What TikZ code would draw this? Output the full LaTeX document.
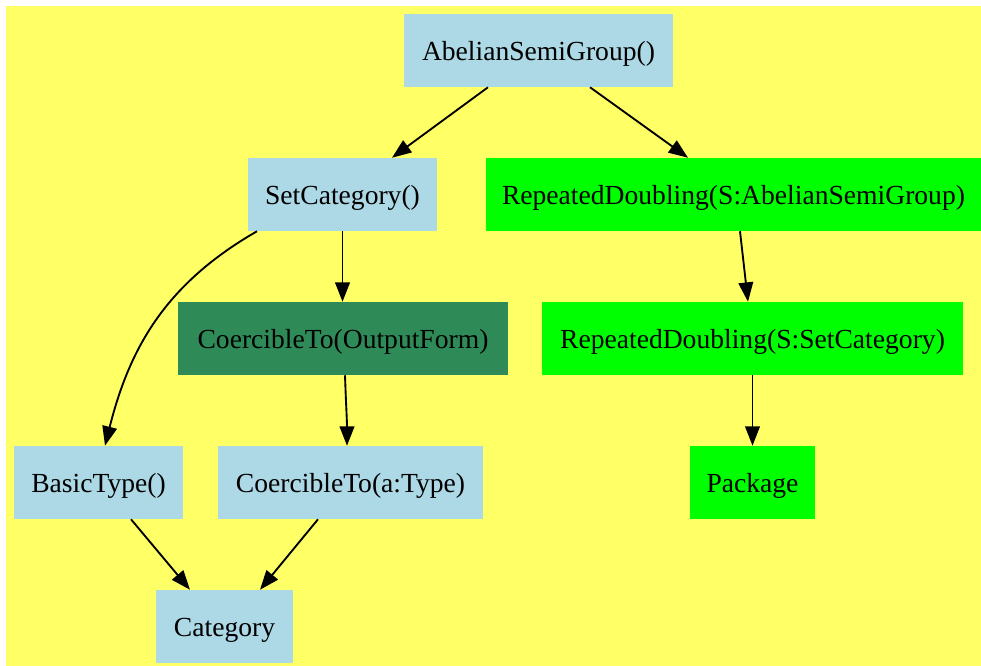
\documentclass[tikz,border=0pt]{standalone}
\usepackage{fontspec}
\setmainfont{Liberation Serif}
\usetikzlibrary{arrows.meta, calc}
\definecolor{dyellow}{HTML}{FFFF66}
\definecolor{dblue}{HTML}{ADD8E6}
\definecolor{dgreen}{HTML}{00FF00}
\definecolor{dsea}{HTML}{2E8B57}

\begin{document}
\begin{tikzpicture}[x=0.75pt, y=-0.75pt,
  box/.style={rectangle, inner sep=0pt, minimum height=54.75pt,
    text height=14.3pt, text depth=0pt,
    font=\fontsize{20.7}{24}\selectfont, text=black},
  cls/.style={box, fill=dblue},
  pkgbox/.style={box, fill=dgreen},
  dep/.style={draw=black, line width=1.4pt, -{Triangle[length=14.5pt, width=11pt]}}]
\useasboundingbox (0,0) rectangle (981,666);
\fill[dyellow] (6,6) rectangle (981,666);
% categories and packages
\node[cls, minimum width=201.75pt] (asg) at (538.5,50.5) {AbelianSemiGroup()};
\node[cls, minimum width=141.75pt] (setcat) at (342.5,194.5) {SetCategory()};
\node[pkgbox, minimum width=371.25pt] (rdasg) at (733.5,194.5) {RepeatedDoubling(S:AbelianSemiGroup)};
\node[box, fill=dsea, minimum width=247.5pt] (coerout) at (343,338.5) {CoercibleTo(OutputForm)};
\node[pkgbox, minimum width=315.75pt] (rdset) at (752.5,338.5) {RepeatedDoubling(S:SetCategory)};
\node[cls, minimum width=126.75pt] (basic) at (98.5,482.5) {BasicType()};
\node[cls, minimum width=198.75pt] (coertype) at (350.5,482.5) {CoercibleTo(a:Type)};
\node[pkgbox, minimum width=93.75pt] (pkg) at (752.5,482.5) {Package};
\node[cls, minimum width=102.75pt] (cat) at (224.5,626.5) {Category};
% edges
\draw[dep] ($(asg.south)+(-50.5,0)$) -- ($(setcat.north)+(49.5,0)$);
\draw[dep] ($(asg.south)+(51.5,0)$) -- ($(rdasg.north)+(-45.5,0)$);
\draw[dep] (setcat.south) -- (setcat.south |- coerout.north);
\draw[dep] ($(setcat.south)+(-85.5,0)$) .. controls (167,283) and (130,346) .. ($(basic.north)+(6.5,0)$);
\draw[dep] ($(coerout.south)+(2,0)$) .. controls (346,405) and (347,420) .. ($(coertype.north)+(-3.5,0)$);
\draw[dep] ($(rdasg.south)+(6.5,0)$) -- ($(rdset.north)+(-4.5,0)$);
\draw[dep] (rdset.south) -- (pkg.north);
\draw[dep] ($(basic.south)+(32.5,0)$) -- ($(cat.north)+(-34.5,0)$);
\draw[dep] ($(coertype.south)+(-32.5,0)$) -- ($(cat.north)+(35.5,0)$);
\end{tikzpicture}
\end{document}
